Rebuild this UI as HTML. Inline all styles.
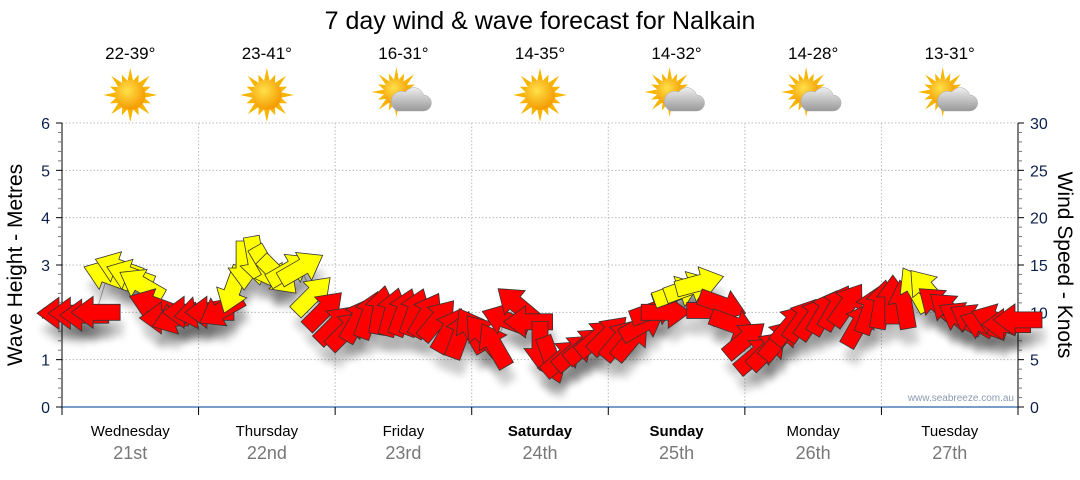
<!DOCTYPE html>
<html><head><meta charset="utf-8"><style>
body{margin:0;background:#fff;font-family:"Liberation Sans",sans-serif;}
svg text{font-family:"Liberation Sans",sans-serif;}
</style></head><body>
<svg id="c" width="1080" height="475" viewBox="0 0 1080 475" xmlns="http://www.w3.org/2000/svg">
<defs>
<filter id="sh" x="-50%" y="-50%" width="200%" height="200%"><feGaussianBlur stdDeviation="4"/></filter>
<radialGradient id="sun" cx="40%" cy="35%" r="65%"><stop offset="0" stop-color="#ffe14a"/><stop offset="1" stop-color="#f59a00"/></radialGradient>
<linearGradient id="cl" x1="0" y1="0" x2="0" y2="1"><stop offset="0" stop-color="#eee"/><stop offset="1" stop-color="#999"/></linearGradient>
</defs>
<text x="540" y="29" font-size="25" text-anchor="middle" fill="#000">7 day wind &amp; wave forecast for Nalkain</text>
<g id="topg"></g>
<g id="grid"></g>
<g id="axes"></g>
<g id="shadows"></g>
<g id="marks"></g>
<text transform="translate(22,265) rotate(-90)" font-size="21" text-anchor="middle">Wave Height - Metres</text>
<text transform="translate(1058,265) rotate(90)" font-size="21" text-anchor="middle">Wind Speed - Knots</text>
<text x="1014" y="401" font-size="10" text-anchor="end" fill="#8a9bb0">www.seabreeze.com.au</text>
</svg>
<script>
const days=["Wednesday","Thursday","Friday","Saturday","Sunday","Monday","Tuesday"];
const dates=["21st","22nd","23rd","24th","25th","26th","27th"];
const boldDays=[false,false,false,true,true,false,false];
const temps=["22-39°","23-41°","16-31°","14-35°","14-32°","14-28°","13-31°"];
const cloudy=[false,false,true,false,true,true,true];
const leftTicks=[0,1,2,3,4,5,6];
const rightTicks=[0,5,10,15,20,25,30];
// wind every 2 hours from Wed 00:00
const windKnots=[9.9,9.9,9.7,10.0,13.9,14.7,13.9,12.9,10.8,9.4,9.4,10.0,
10.0,10.0,10.2,12.4,15.0,15.5,14.7,13.9,14.5,14.7,11.8,10.2,
8.7,8.1,9.2,9.7,10.2,10.0,10.0,10.0,9.7,9.2,8.1,7.6,
8.1,7.6,6.5,9.2,10.8,9.0,6.5,5.0,5.2,5.8,6.5,7.3,
7.6,7.1,7.1,8.7,10.2,10.0,12.1,12.6,13.1,10.2,10.8,8.7,
7.1,5.5,6.0,7.1,8.7,9.2,9.4,10.0,10.5,10.8,8.7,10.2,
10.8,11.3,10.8,12.4,12.4,10.8,10.2,9.4,9.2,8.7,9.2,8.7,9.2];
const windDir=[180,180,180,180,200,200,200,210,200,180,160,180,
170,180,150,110,90,80,60,45,-30,-30,-45,-45,
-45,-45,-60,-70,-80,-75,-70,-70,-60,-50,-60,-70,
-120,-130,-120,200,220,180,90,70,-40,-40,-40,-40,
-45,-50,-50,-30,-20,0,-20,-20,-15,0,20,20,
-40,-40,-45,-50,-50,-55,-55,-60,-60,-55,-60,-70,
-80,-90,-100,-120,-130,-140,-140,-150,-150,-160,-160,180,180];
const windYellow=[0,0,0,0,1,1,1,1,0,0,0,0,
0,0,0,1,1,1,1,1,1,1,1,0,
0,0,0,0,0,0,0,0,0,0,0,0,
0,0,0,0,0,0,0,0,0,0,0,0,
0,0,0,0,0,0,1,1,1,0,0,0,
0,0,0,0,0,0,0,0,0,0,0,0,
0,0,0,1,1,0,0,0,0,0,0,0,0];
const NS="http://www.w3.org/2000/svg";
const X0=62,X1=1018,Y0=407,Y6=123;
const dayW=(X1-X0)/7;
const yM=v=>Y0-(Y0-Y6)*v/6;
const yK=v=>Y0-(Y0-Y6)*v/30;
const xH=h=>X0+dayW*h/24;
function mk(tag,attrs,parent){const e=document.createElementNS(NS,tag);for(const k in attrs)e.setAttribute(k,attrs[k]);parent.appendChild(e);return e;}
const gridG=document.getElementById('grid'),axesG=document.getElementById('axes'),topG=document.getElementById('topg');
leftTicks.forEach(t=>{if(t>0){const l=mk('line',{x1:X0,x2:X1,y1:yM(t),y2:yM(t),stroke:'#bbb','stroke-dasharray':'1.5,2'},gridG);

}});
for(let d=1;d<7;d++){const l=mk('line',{x1:X0+d*dayW,x2:X0+d*dayW,y1:Y6,y2:Y0,stroke:'#bbb','stroke-dasharray':'1.5,2'},gridG);

}
mk('line',{x1:X0,x2:X0,y1:Y6,y2:Y0,stroke:'#000'},axesG);
mk('line',{x1:X1,x2:X1,y1:Y6,y2:Y0,stroke:'#000'},axesG);
const bx=mk('line',{x1:X0,x2:X1,y1:Y0,y2:Y0,stroke:'#4a7db5','stroke-width':1.5},axesG);


for(let i=0;i<=30;i++){const v=i*0.2;const maj=i%5==0;mk('line',{x1:X0-(maj?6:4),x2:X0,y1:yM(v),y2:yM(v),stroke:maj?'#000':'#777'},axesG);}
leftTicks.forEach(t=>{const e=mk('text',{x:X0-12,y:yM(t)+6,'font-size':16,'text-anchor':'end',fill:'#0b1f4a'},axesG);e.textContent=t;

});
for(let v=0;v<=30;v+=1){const maj=v%5==0;mk('line',{x1:X1,x2:X1+(maj?6:4),y1:yK(v),y2:yK(v),stroke:maj?'#000':'#777'},axesG);}
rightTicks.forEach(t=>{const e=mk('text',{x:X1+12,y:yK(t)+6,'font-size':16,fill:'#0b1f4a'},axesG);e.textContent=t;

});
for(let d=0;d<=7;d++)mk('line',{x1:X0+d*dayW,x2:X0+d*dayW,y1:Y0,y2:Y0+8,stroke:'#000'},axesG);
days.forEach((d,i)=>{const cx=X0+dayW*(i+0.5);
const t=mk('text',{x:cx,y:436,'font-size':15,'text-anchor':'middle','font-weight':boldDays[i]?'bold':'normal'},axesG);t.textContent=d;


const t2=mk('text',{x:cx,y:459,'font-size':18,'text-anchor':'middle',fill:'#777'},axesG);t2.textContent=dates[i];


const t3=mk('text',{x:cx,y:59,'font-size':17,'text-anchor':'middle'},topG);t3.textContent=temps[i];


const g=mk('g',{transform:`translate(${cx},95)`},topG);


const sx=cloudy[i]?-7:0,sy=cloudy[i]?-3:0,r=cloudy[i]?13:15;
for(let k=0;k<16;k++){const a=k*Math.PI/8,L=(k%2?r+7:r+12);
const p=[[sx+Math.cos(a)*L,sy+Math.sin(a)*L],[sx+Math.cos(a+0.18)*r,sy+Math.sin(a+0.18)*r],[sx+Math.cos(a-0.18)*r,sy+Math.sin(a-0.18)*r]];
mk('polygon',{points:p.map(q=>q.join(',')).join(' '),fill:'#f7b500'},g);}
mk('circle',{cx:sx,cy:sy,r:r,fill:'url(#sun)'},g);
if(cloudy[i]){mk('path',{d:'M-6,16 h26 a8,8 0 0 0 0,-16 a10,10 0 0 0 -18,-3 a8,8 0 0 0 -8,19 z',fill:'url(#cl)',stroke:'#aaa','stroke-width':0.5},g);}
});
const marksG=document.getElementById('marks'),shadowsG=document.getElementById('shadows');
const arrowPts="-24,-8 3,-8 3,-16 25,0 3,16 3,8 -24,8";
const linePts=windKnots.map((v,i)=>xH(i*2)+','+yK(v)).join(' ');
const ln=mk('polyline',{points:linePts,fill:'none',stroke:'#aaa','stroke-width':1},shadowsG);


windKnots.forEach((v,i)=>{const x=xH(i*2),y=yK(v);
mk('polygon',{points:arrowPts,transform:`translate(${x+3},${y+16}) rotate(${windDir[i]})`,fill:'#000',opacity:0.2,filter:'url(#sh)'},shadowsG);
const a=mk('polygon',{points:arrowPts,transform:`translate(${x},${y}) rotate(${windDir[i]})`,fill:windYellow[i]?'#ffff00':'#ff0000',stroke:'#333','stroke-width':0.8},marksG);

});
</script>
</body></html>
